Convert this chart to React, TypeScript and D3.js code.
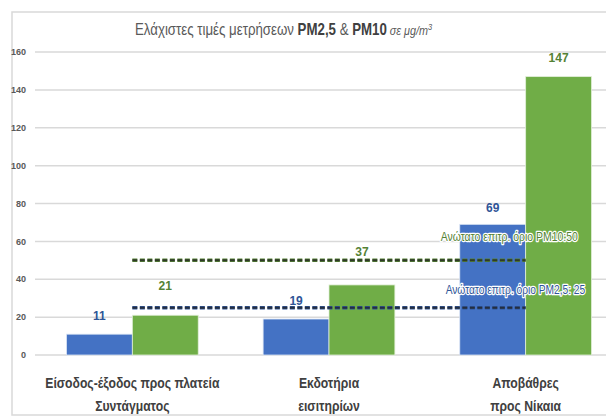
import React from 'react';
import * as d3 from 'd3';

const categories = [
  ['Είσοδος-έξοδος προς πλατεία', 'Συντάγματος'],
  ['Εκδοτήρια', 'εισιτηρίων'],
  ['Αποβάθρες', 'προς Νίκαια'],
];
const pm25Values = [11, 19, 69];
const pm10Values = [21, 37, 147];
const yTicks = [0, 20, 40, 60, 80, 100, 120, 140, 160];
const limitPM10 = 50;
const limitPM25 = 25;
const limitLabelPM10 = 'Ανώτατο επιτρ. όριο PM10:50';
const limitLabelPM25 = 'Ανώτατο επιτρ. όριο PM2,5: 25';

// label lift above bar tops (px), layout only
const liftPM25 = [18, 18, 17];
const liftPM10 = [29, 33, 19];

const W = 606;
const H = 417;
const FONT = "'Liberation Sans', Arial, sans-serif";
const BLUE = '#4472C4';
const GREEN = '#70AD47';
const BLUE_TXT = '#2F5597';
const GREEN_TXT = '#548235';

export default function App() {
  const keys = categories.map((c) => c.join(' '));
  const x0 = d3.scaleBand<string>().domain(keys).range([34, 624]).paddingInner(0.33).paddingOuter(0.165);
  const x1 = d3.scaleBand<string>().domain(['pm25', 'pm10']).range([0, x0.bandwidth()]);
  const y = d3.scaleLinear().domain([0, 160]).range([355, 52]);

  const c1 = (x0(keys[0]) as number) + x0.bandwidth() / 2;
  const c3 = (x0(keys[2]) as number) + x0.bandwidth() / 2;

  const dashed = (val: number, color: string) => (
    <g>
      <line x1={c1} x2={c3} y1={y(val)} y2={y(val)} stroke={color} strokeWidth={3.5} strokeDasharray="5 2.5" />
      <line x1={c1} x2={c3} y1={y(val)} y2={y(val)} stroke="#222" strokeWidth={2} strokeDasharray="5 2.5" opacity={0.75} />
    </g>
  );

  const halo = { stroke: '#fff', strokeWidth: 2.5, paintOrder: 'stroke', strokeLinejoin: 'round' } as any;

  return (
    <svg width={W} height={H} style={{ position: 'absolute', left: 0, top: 0, background: '#fff' }} fontFamily={FONT}>
      <rect x={12} y={12} width={W} height={403} fill="#fff" stroke="#d9d9d9" strokeWidth={1.5} />
      <text transform="translate(135,35) scale(0.83,1)" fontSize={16} fill="#595959">
        <tspan>Ελάχιστες τιμές μετρήσεων </tspan>
        <tspan fontWeight="bold" fill="#404040">PM2,5</tspan>
        <tspan> &amp; </tspan>
        <tspan fontWeight="bold" fill="#404040">PM10</tspan>
        <tspan fontStyle="italic" fontSize={13}> σε μg/m</tspan>
        <tspan fontStyle="italic" fontSize={9} dy={-5}>3</tspan>
      </text>
      {yTicks.map((t) => (
        <g key={t}>
          <line x1={35} x2={W} y1={y(t)} y2={y(t)} stroke="#d9d9d9" strokeWidth={1.5} />
          <text x={26} y={y(t)} dy="0.35em" textAnchor="end" fontSize={9} fontWeight="bold" fill="#595959">{t}</text>
        </g>
      ))}
      {keys.map((k, i) => {
        const gx = x0(k) as number;
        const bx = gx + (x1('pm25') as number);
        const gx2 = gx + (x1('pm10') as number);
        const cx = gx + x0.bandwidth() / 2;
        return (
          <g key={k}>
            <rect x={bx} y={y(pm25Values[i])} width={x1.bandwidth()} height={y(0) - y(pm25Values[i])} fill={BLUE} stroke="#dce6f5" strokeWidth={0.8} />
            <rect x={gx2} y={y(pm10Values[i])} width={x1.bandwidth()} height={y(0) - y(pm10Values[i])} fill={GREEN} stroke="#e2efd9" strokeWidth={0.8} />
            <text x={bx + x1.bandwidth() / 2} y={y(pm25Values[i]) - liftPM25[i]} dy="0.35em" textAnchor="middle" fontSize={12} fontWeight="bold" fill={BLUE_TXT}>{pm25Values[i]}</text>
            <text x={gx2 + x1.bandwidth() / 2} y={y(pm10Values[i]) - liftPM10[i]} dy="0.35em" textAnchor="middle" fontSize={12} fontWeight="bold" fill={GREEN_TXT}>{pm10Values[i]}</text>
            {categories[i].map((line, j) => (
              <text key={j} transform={`translate(${cx},${383 + j * 23}) scale(0.84,1)`} dy="0.35em" textAnchor="middle" fontSize={14.5} fontWeight={600} fill="#404040">{line}</text>
            ))}
          </g>
        );
      })}
      {dashed(limitPM10, '#548235')}
      {dashed(limitPM25, '#2F5597')}
      <text transform={`translate(${c3 - 85},${y(limitPM10) - 24}) scale(0.835,1)`} dy="0.35em" fontSize={12.5} fill={GREEN_TXT} {...halo}>{limitLabelPM10}</text>
      <text transform={`translate(${c3 - 80},${y(limitPM25) - 18}) scale(0.815,1)`} dy="0.35em" fontSize={12.5} fill={BLUE_TXT} {...halo}>{limitLabelPM25}</text>
    </svg>
  );
}
